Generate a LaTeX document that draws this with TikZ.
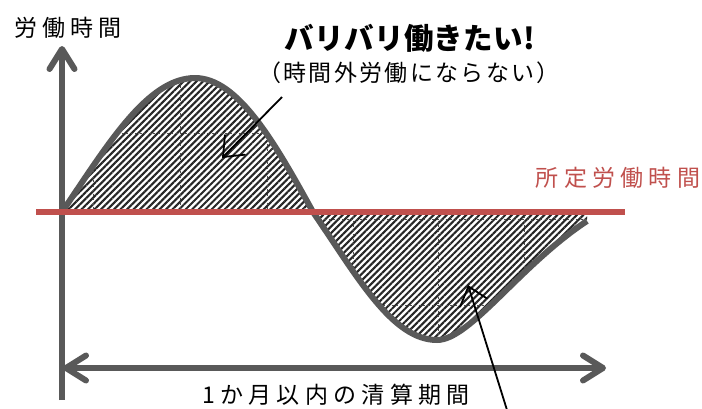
\documentclass[tikz,border=0pt]{standalone}
\usepackage{fontspec}
\newfontfamily\jp[LetterSpace=23]{Noto Sans CJK JP}
\newfontfamily\jpsub[LetterSpace=10]{Noto Sans CJK JP}
\newfontfamily\jpbold[LetterSpace=1]{Noto Sans CJK JP}
\usetikzlibrary{arrows.meta,patterns.meta}
\definecolor{axisgray}{HTML}{595959}
\definecolor{redline}{HTML}{C0504D}
\tikzset{
  axtip/.tip={Straight Barb[length=20pt,width=25pt,line cap=round,line join=round]},
  ptrtip/.tip={Straight Barb[length=17pt,width=28pt,line cap=round]}
}
\begin{document}
\begin{tikzpicture}[x=1pt,y=-1pt,
  axis/.style={draw=axisgray,line width=6pt},
  curve/.style={draw=axisgray,line width=6pt,line join=round},
  hatch/.style={pattern={Lines[angle=45,distance=4.6pt,line width=2.1pt]},pattern color=black!85},
  gridl/.style={draw=black!70,line width=0.5pt,dash pattern=on 2pt off 2.5pt},
  ptr/.style={draw=black,line width=1.8pt,-{ptrtip}},
  lbl/.style={inner sep=0pt,font=\jp\fontsize{23pt}{26pt}\selectfont},
  sublbl/.style={inner sep=0pt,font=\jpsub\fontsize{23pt}{26pt}\selectfont},
  ttl/.style={inner sep=0pt,font=\jpbold\bfseries\fontsize{29.5pt}{32pt}\selectfont}
]
\useasboundingbox (0,0) rectangle (702,408);
% hatched lobes with grid
\begin{scope}
  \clip (62,212) .. controls (107,146) and (147,78) .. (195,78)
        .. controls (238,78) and (275,143) .. (313,212) -- cycle
        (313,212) .. controls (357,276) and (392,340) .. (437,340)
        .. controls (470,340) and (520,265) .. (587,221) -- (587,215) -- (313,215) -- cycle;
  \fill[hatch] (0,0) rectangle (702,408);
  \foreach \gx in {93,180,267,353,438,524} {\draw[gridl] (\gx,0) -- (\gx,408);}
  \foreach \gy in {133,219,305} {\draw[gridl] (0,\gy) -- (702,\gy);}
\end{scope}
% curve
\draw[curve] (62,212) .. controls (107,146) and (147,78) .. (195,78)
        .. controls (238,78) and (275,143) .. (313,212)
        .. controls (357,276) and (392,340) .. (437,340)
        .. controls (470,340) and (520,265) .. (587,221);
% axes
\coordinate (ybot) at (62,400);
\coordinate (ytop) at (62,46);
\coordinate (hl) at (63,368);
\coordinate (hr) at (606,368);
\draw[axis,-{axtip}] (ybot) -- (ytop);
\draw[axis,{axtip}-{axtip}] (hl) -- (hr);
% standard working hours line
\coordinate (rl) at (36,212);
\coordinate (rr) at (625,212);
\draw[draw=redline,line width=5.5pt] (rl) -- (rr);
% labels
\node[lbl] (ylab) at (68,28) {労働時間};
\node[ttl] (title) at (410,38) {バリバリ働きたい!};
\node[sublbl] (sub) at (409,73) {（時間外労働にならない）};
\node[lbl,text=redline] (std) at (618,178) {所定労働時間};
\node[lbl] (period) at (336,395) {1か月以内の清算期間};
% pointer arrows
\coordinate (p1s) at (282,97);
\coordinate (p1e) at (222,158);
\coordinate (p2s) at (507,410);
\coordinate (p2e) at (468,285);
\draw[ptr] (p1s) -- (p1e);
\draw[ptr] (p2s) -- (p2e);
\end{tikzpicture}
\end{document}
